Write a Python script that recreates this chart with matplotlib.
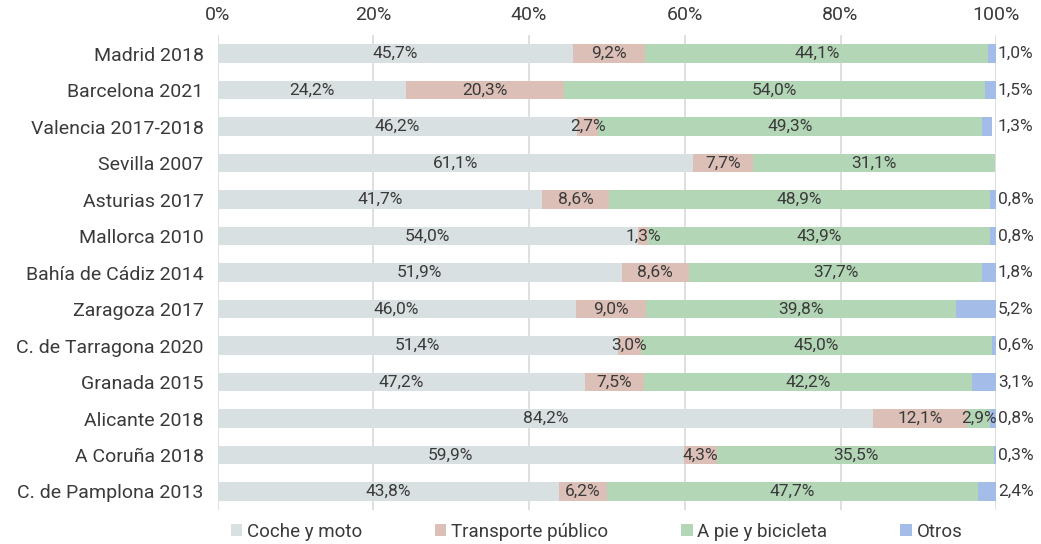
import matplotlib.pyplot as plt
import numpy as np

plt.rcParams['font.family'] = ['Roboto', 'DejaVu Sans']

ciudades = ['Madrid 2018', 'Barcelona 2021', 'Valencia 2017-2018', 'Sevilla 2007',
            'Asturias 2017', 'Mallorca 2010', 'Bahía de Cádiz 2014', 'Zaragoza 2017',
            'C. de Tarragona 2020', 'Granada 2015', 'Alicante 2018', 'A Coruña 2018',
            'C. de Pamplona 2013']
coche = [45.7, 24.2, 46.2, 61.1, 41.7, 54.0, 51.9, 46.0, 51.4, 47.2, 84.2, 59.9, 43.8]
transporte = [9.2, 20.3, 2.7, 7.7, 8.6, 1.3, 8.6, 9.0, 3.0, 7.5, 12.1, 4.3, 6.2]
a_pie = [44.1, 54.0, 49.3, 31.1, 48.9, 43.9, 37.7, 39.8, 45.0, 42.2, 2.9, 35.5, 47.7]
otros = [1.0, 1.5, 1.3, 0.0, 0.8, 0.8, 1.8, 5.2, 0.6, 3.1, 0.8, 0.3, 2.4]

series = [
    ('Coche y moto', coche, '#D9E0E1'),
    ('Transporte público', transporte, '#DCC0B7'),
    ('A pie y bicicleta', a_pie, '#B3D7B6'),
    ('Otros', otros, '#A3BDE8'),
]
texto = '#3A3A3A'

def fmt(v):
    return f'{v:.1f}%'.replace('.', ',')

fig, ax = plt.subplots(figsize=(10.41, 5.44), dpi=100)
fig.subplots_adjust(left=0.209, right=0.957, top=0.935, bottom=0.063)

y = np.arange(len(ciudades))
left = np.zeros(len(ciudades))
for nombre, vals, color in series:
    vals = np.array(vals)
    ax.barh(y, vals, left=left, height=0.5, color=color, label=nombre, zorder=2)
    if nombre != 'Otros':
        for yi, l, v in zip(y, left, vals):
            ax.text(l + v / 2, yi, fmt(v), ha='center', va='center',
                    fontsize=12.5, color=texto, zorder=3)
    else:
        for yi, v in zip(y, vals):
            if v > 0:
                ax.text(100.2, yi, fmt(v), ha='left', va='center',
                        fontsize=12.5, color=texto)
    left += vals

ax.set_xlim(0, 100)
ax.set_ylim(len(ciudades) - 0.5, -0.5)
ax.set_yticks(y)
ax.set_yticklabels(ciudades, fontsize=14, color=texto)
ax.set_xticks(np.arange(0, 101, 20))
ax.set_xticklabels([f'{t}%' for t in range(0, 101, 20)], fontsize=14, color=texto)
ax.xaxis.tick_top()
ax.tick_params(axis='y', length=0, pad=10)
ax.tick_params(axis='x', length=0, pad=8)
ax.grid(axis='x', color='#D9D9D9', linewidth=1.2, zorder=0)
for s in ax.spines.values():
    s.set_visible(False)

fig.legend(loc='center', bbox_to_anchor=(0.573, 0.022), ncol=4, frameon=False,
           fontsize=13.5, handlelength=0.6, handleheight=0.6, handletextpad=0.25,
           columnspacing=3.9, labelcolor=texto, borderpad=0)

plt.savefig('out.png')
